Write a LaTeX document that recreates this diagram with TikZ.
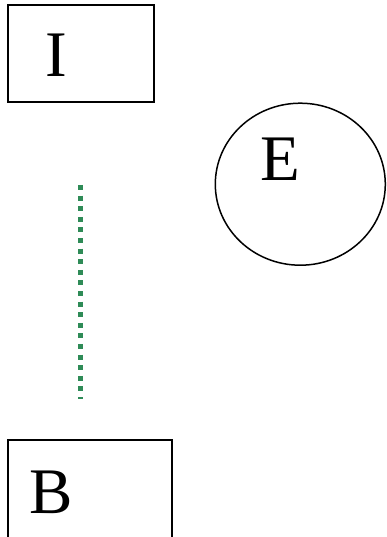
\documentclass[tikz,border=0pt]{standalone}
\usepackage{fontspec}
\setmainfont{Liberation Serif}
\definecolor{dotgreen}{RGB}{46,139,87}
\begin{document}
\begin{tikzpicture}[x=1pt,y=-1pt,
  boxshape/.style={draw=black,line width=1.8pt,inner sep=0pt},
  bigletter/.style={inner sep=0pt,anchor=base west,font=\fontsize{65}{65}\selectfont},
  dotline/.style={draw=dotgreen,line width=4.5pt,dash pattern=on 5pt off 5.6pt}]
\clip (0,0) rectangle (386,537);
\useasboundingbox (0,0) rectangle (386,537);
\draw[boxshape] (8,5) rectangle (154,102);
\node[bigletter] (I) at (45,77) {I};
\draw[line width=1.5pt] (300.3,184.2) ellipse [x radius=85,y radius=81];
\node[bigletter] (E) at (260,181) {E};
\coordinate (dtop) at (80.5,185);
\coordinate (dbot) at (80.5,399);
\draw[dotline] (dtop) -- (dbot);
\draw[boxshape] (8,440) rectangle (172,560);
\node[bigletter] (B) at (29,513) {B};
\end{tikzpicture}
\end{document}
